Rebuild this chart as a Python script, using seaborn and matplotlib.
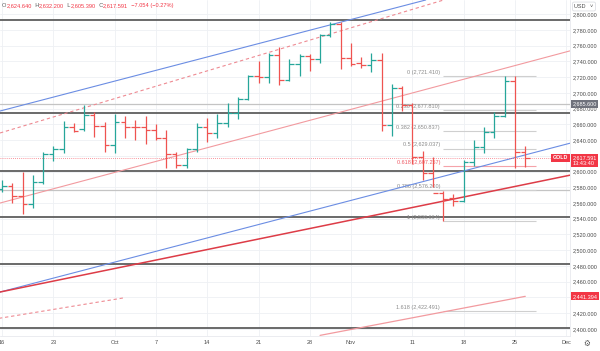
import numpy as np
import pandas as pd
import matplotlib
matplotlib.use("Agg")
import matplotlib.pyplot as plt
import seaborn as sns

# ---------------- data ----------------
dates = ["Sep 16", "Sep 17", "Sep 18", "Sep 19", "Sep 20",
         "Sep 23", "Sep 24", "Sep 25", "Sep 26", "Sep 27",
         "Sep 30", "Oct 1", "Oct 2", "Oct 3", "Oct 4",
         "Oct 7", "Oct 8", "Oct 9", "Oct 10", "Oct 11",
         "Oct 14", "Oct 15", "Oct 16", "Oct 17", "Oct 18",
         "Oct 21", "Oct 22", "Oct 23", "Oct 24", "Oct 25",
         "Oct 28", "Oct 29", "Oct 30", "Oct 31", "Nov 1",
         "Nov 4", "Nov 5", "Nov 6", "Nov 7", "Nov 8",
         "Nov 11", "Nov 12", "Nov 13", "Nov 14", "Nov 15",
         "Nov 18", "Nov 19", "Nov 20", "Nov 21", "Nov 22",
         "Nov 25", "Nov 26"]
opens = [2578, 2582, 2569, 2559, 2587, 2622, 2628, 2657, 2654, 2672,
         2658, 2634, 2663, 2657, 2656, 2653, 2643, 2622, 2608, 2629,
         2657, 2649, 2662, 2674, 2692, 2721, 2720, 2748, 2716, 2736,
         2747, 2743, 2774, 2788, 2744, 2738, 2735, 2742, 2659, 2706,
         2685, 2619, 2598, 2573, 2566, 2562, 2612, 2631, 2650, 2670,
         2715, 2624.640]
highs = [2589, 2586, 2600, 2595, 2625, 2632, 2664, 2662, 2685, 2675,
         2663, 2673, 2671, 2665, 2671, 2660, 2653, 2625, 2630, 2661,
         2668, 2673, 2687, 2695, 2723, 2740, 2750, 2758, 2743, 2749,
         2749, 2775, 2790, 2790, 2763, 2746, 2750, 2750, 2711, 2709,
         2687, 2626, 2618, 2575, 2572, 2615, 2640, 2656, 2675, 2721,
         2721.41, 2632.200]
lows = [2574, 2560, 2546, 2553, 2584, 2613, 2623, 2650, 2652, 2644,
        2625, 2624, 2643, 2640, 2635, 2640, 2604, 2605, 2604, 2625,
        2638, 2642, 2656, 2667, 2691, 2712, 2713, 2710, 2715, 2721,
        2728, 2738, 2771, 2730, 2734, 2732, 2727, 2652, 2645, 2677,
        2610, 2589, 2580, 2536.664, 2556, 2561, 2607, 2624, 2643, 2669,
        2605, 2605.390]
closes = [2582, 2569, 2559, 2587, 2622, 2628, 2657, 2652, 2672, 2658,
          2634, 2663, 2657, 2656, 2653, 2643, 2622, 2608, 2629, 2657,
          2649, 2662, 2674, 2692, 2721, 2720, 2748, 2716, 2736, 2747,
          2743, 2774, 2788, 2744, 2736, 2735, 2742, 2659, 2706, 2685,
          2619, 2598, 2573, 2565, 2562, 2612, 2631, 2650, 2670, 2715,
          2624.645, 2617.591]

x_tick_pos = [0, 5, 11, 15, 20, 25, 30, 34, 40, 45, 50, 55]
x_tick_labels = ["16", "23", "Oct", "7", "14", "21", "28", "Nov", "11", "18", "25", "Dec"]
price_ticks = list(range(2400, 2801, 20))
hidden_price_ticks = [2620, 2440]   # covered by price tags in the reference

# horizontal support / resistance levels
dark_levels = [2792, 2674, 2600.6, 2542, 2482.5, 2401]
light_levels = [2685.6, 2576.2]

# fibonacci retracement (Nov 14 low -> Nov 25 high)
fib_ratios = ["0", "0.236", "0.382", "0.5", "0.618", "0.786", "1", "1.618"]
fib_values = [2721.410, 2677.810, 2650.837, 2629.037, 2607.257, 2576.200, 2536.664, 2422.491]
fib_start, fib_end = 43, 52

# trend lines: (bar index, price) anchor pairs
blue_upper = [(0, 2677.5), (40, 2813.5)]
blue_lower = [(0, 2447.5), (50, 2617.7)]
red_main = [(0, 2447.4), (50, 2581.0)]
pink_upper = [(0, 2560.6), (50, 2734.6)]
pink_dash_upper = [(0, 2649.7), (40, 2806.0)]
pink_dash_lower = [(-0.5, 2413.0), (11.8, 2439.3)]
pink_short = [(31.0, 2391.8), (51.0, 2441.394)]

# ---------------- style ----------------
sns.set_theme(style="white")
plt.rcParams["font.family"] = ["Liberation Sans", "DejaVu Sans"]

RED = "#f23645"
GREEN = "#26a69a"
BARRED = "#ef5350"
TXT = "#4a4a4a"

fig = plt.figure(figsize=(6, 3.51), dpi=100)
fig.patch.set_facecolor("white")
ax = fig.add_axes([0, 15 / 351, 570 / 600, 336 / 351])
ax.set_facecolor("white")
ax.set_xlim(-0.195, 55.36)
ax.set_ylim(2391.0, 2817.9)

# grid
for p in price_ticks:
    ax.axhline(p, color="#eef0f4", lw=0.6, zorder=0)
for t in x_tick_pos:
    ax.axvline(t, color="#eef0f4", lw=0.6, zorder=0)

# horizontal levels
for lv in light_levels:
    ax.axhline(lv, color="#c4c4c4", lw=0.9, zorder=1)
for lv in dark_levels:
    ax.axhline(lv, color="#5e5e5e", lw=1.3, zorder=1)

# fib levels
for r, v in zip(fib_ratios, fib_values):
    col = "#f5a3a9" if r == "0.618" else "#cfcfcf"
    tcol = "#ee5b66" if r == "0.618" else "#8c8c8c"
    ax.hlines(v, fib_start, fib_end, color=col, lw=0.8, zorder=1)
    ax.text(fib_start - 0.3, v + 1.5, f"{r} ({v:,.3f})", ha="right", va="bottom",
            fontsize=4, color=tcol, zorder=2)

# trend lines (extended)
def line(pts, **kw):
    ax.axline(pts[0], pts[1], **kw)

line(blue_upper, color="#6b8de3", lw=0.8, zorder=2)
line(blue_lower, color="#6b8de3", lw=0.8, zorder=2)
line(red_main, color="#dd3c47", lw=1.1, zorder=2)
line(pink_upper, color="#f29a9f", lw=0.8, zorder=2)
line(pink_dash_upper, color="#ee8a92", lw=0.8, ls=(0, (3, 2.5)), zorder=2)

seg = pd.DataFrame({"x": [p[0] for p in pink_dash_lower], "y": [p[1] for p in pink_dash_lower]})
sns.lineplot(data=seg, x="x", y="y", ax=ax, color="#ee8a92", lw=0.8,
             linestyle=(0, (3, 2.5)), zorder=2)
seg2 = pd.DataFrame({"x": [p[0] for p in pink_short], "y": [p[1] for p in pink_short]})
sns.lineplot(data=seg2, x="x", y="y", ax=ax, color="#f29a9f", lw=0.9, zorder=2)

# current price dotted line
ax.axhline(closes[-1], color=RED, lw=0.6, ls=(0, (1, 1.5)), alpha=0.7, zorder=2)

# OHLC bars
idx = np.arange(len(dates))
o = np.array(opens); h = np.array(highs); l = np.array(lows); c = np.array(closes)
cols = [GREEN if cc >= oo else BARRED for oo, cc in zip(o, c)]
w = 0.45
ax.vlines(idx, l, h, colors=cols, lw=0.9, zorder=3)
ax.hlines(o, idx - w, idx, colors=cols, lw=0.9, zorder=3)
ax.hlines(c, idx, idx + w, colors=cols, lw=0.9, zorder=3)

# axes
ax.set_xlabel(""); ax.set_ylabel("")
ax.set_xticks(x_tick_pos)
ax.set_xticklabels(x_tick_labels)
ax.yaxis.tick_right()
ax.set_yticks(price_ticks)
ax.set_yticklabels(["" if p in hidden_price_ticks else f"{p:,.3f}" for p in price_ticks])
ax.tick_params(axis="x", length=0, pad=2.6, labelsize=4, labelcolor=TXT)
ax.tick_params(axis="y", length=0, pad=2.2, labelsize=4, labelcolor=TXT)
for s in ["top", "left"]:
    ax.spines[s].set_visible(False)
for s in ["right", "bottom"]:
    ax.spines[s].set_color("#e3e5ea")
    ax.spines[s].set_linewidth(0.5)

# price tags
def tag(price, text, fc, dy=0):
    ax.annotate(text, xy=(1, price), xycoords=("axes fraction", "data"),
                xytext=(1.6, dy), textcoords="offset points", ha="left", va="center",
                fontsize=4, color="white", linespacing=1.15,
                bbox=dict(boxstyle="square,pad=0.25", fc=fc, ec="none"),
                annotation_clip=False, zorder=10)

tag(2685.6, "2,685.600", "#6f727c")
tag(closes[-1], f"{closes[-1]:,.3f}\n13:43:40", RED, dy=-2.2)
tag(pink_short[1][1], f"{pink_short[1][1]:,.3f}", RED)
ax.annotate("GOLD", xy=(1, closes[-1]), xycoords=("axes fraction", "data"),
            xytext=(-1.2, 0), textcoords="offset points", ha="right", va="center",
            fontsize=3.8, color="white", fontweight="bold",
            bbox=dict(boxstyle="square,pad=0.3", fc=RED, ec="none"),
            annotation_clip=False, zorder=10)

# header OHLC
chg = closes[-1] - closes[-2]
pct = chg / closes[-2] * 100
pieces = [("O", "#555555"), (f"{opens[-1]:,.3f}", RED), ("  H", "#555555"), (f"{highs[-1]:,.3f}", RED),
          ("  L", "#555555"), (f"{lows[-1]:,.3f}", RED), ("  C", "#555555"), (f"{closes[-1]:,.3f}", RED),
          (f"  {chg:+.3f} ({pct:+.2f}%)".replace("-", "\u2212"), RED)]
prev = None
for s, col in pieces:
    if prev is None:
        prev = fig.text(2 / 600, 1 - 3 / 351, s, ha="left", va="top", fontsize=4.1, color=col)
    else:
        prev = ax.annotate(s, xy=(1, 0), xycoords=prev, ha="left", va="bottom",
                           fontsize=4.1, color=col, annotation_clip=False)

# USD box & settings icon
fig.text(584 / 600, 1 - 6.5 / 351, "USD   \u02c5", ha="center", va="center", fontsize=4, color=TXT,
         bbox=dict(boxstyle="round,pad=0.35,rounding_size=0.3", fc="white", ec="#d6d8de", lw=0.5))
fig.text(587 / 600, 1 - 343 / 351, "\u2699", ha="center", va="center", fontsize=5.5, color="#555555",
         family=["DejaVu Sans"])

fig.savefig("out.png", dpi=100, facecolor="white")
